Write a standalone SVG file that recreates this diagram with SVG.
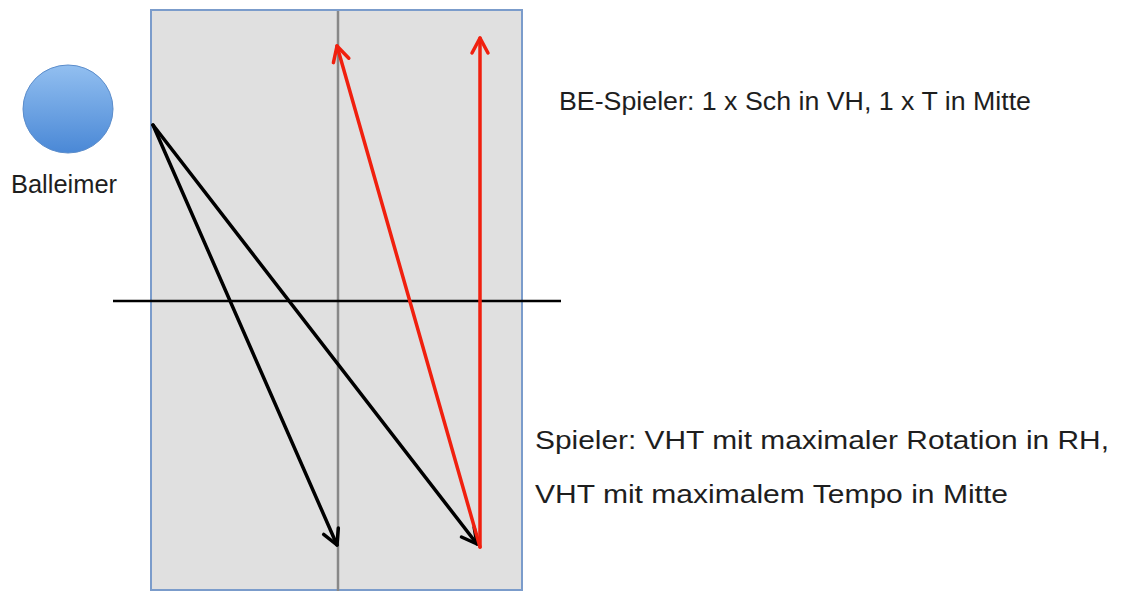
<svg xmlns="http://www.w3.org/2000/svg" width="1125" height="591" viewBox="0 0 1125 591">
<style>
text{font-family:"Liberation Sans",Arial,sans-serif;fill:#1e1e1e;font-size:25px}
.blk{stroke:#000;stroke-width:3.5;fill:none;stroke-linecap:round}
.red{stroke:#f0200f;stroke-width:3.5;fill:none;stroke-linecap:round}
</style>
<defs>
<linearGradient id="g" x1="0" y1="0" x2="0" y2="1">
<stop offset="0" stop-color="#92bff0"/>
<stop offset="1" stop-color="#4a88d6"/>
</linearGradient>
<marker id="ab" markerUnits="userSpaceOnUse" markerWidth="30" markerHeight="30" viewBox="-20 -15 30 30" refX="0" refY="0" orient="auto">
<path d="M-15 -8 L0 0 L-15 8" fill="none" stroke="#000" stroke-width="3.5" stroke-linecap="round" stroke-linejoin="round"/>
</marker>
<marker id="ar" markerUnits="userSpaceOnUse" markerWidth="30" markerHeight="30" viewBox="-20 -15 30 30" refX="0" refY="0" orient="auto">
<path d="M-15 -8 L0 0 L-15 8" fill="none" stroke="#f0200f" stroke-width="3.5" stroke-linecap="round" stroke-linejoin="round"/>
</marker>
</defs>
<rect width="1125" height="591" fill="#fff"/>
<g id="table">
<rect x="151" y="10" width="371" height="580" fill="#e0e0e0" stroke="#7b9ccb" stroke-width="2"/>
<line x1="338" y1="11" x2="338" y2="591" stroke="#888" stroke-width="2.5"/>
<line x1="113" y1="301" x2="561" y2="301" stroke="#000" stroke-width="2.5"/>
</g>
<g id="balleimer">
<ellipse cx="68" cy="109" rx="45" ry="44" fill="url(#g)" stroke="#5a8ccb" stroke-width="1"/>
<text x="11" y="193" textLength="106" lengthAdjust="spacingAndGlyphs">Balleimer</text>
</g>
<g id="labels">
<text x="559" y="110" textLength="472" lengthAdjust="spacingAndGlyphs">BE-Spieler: 1 x Sch in VH, 1 x T in Mitte</text>
<text x="535" y="449" textLength="574" lengthAdjust="spacingAndGlyphs">Spieler: VHT mit maximaler Rotation in RH,</text>
<text x="535" y="503" textLength="473" lengthAdjust="spacingAndGlyphs">VHT mit maximalem Tempo in Mitte</text>
</g>
<g id="connectors">
<line class="blk" x1="153" y1="125" x2="337" y2="545" marker-end="url(#ab)"/>
<line class="blk" x1="153" y1="125" x2="477" y2="544" marker-end="url(#ab)"/>
<line class="red" x1="480" y1="547" x2="337" y2="46" marker-end="url(#ar)"/>
<line class="red" x1="480" y1="547" x2="480" y2="38" marker-end="url(#ar)"/>
</g>
</svg>
